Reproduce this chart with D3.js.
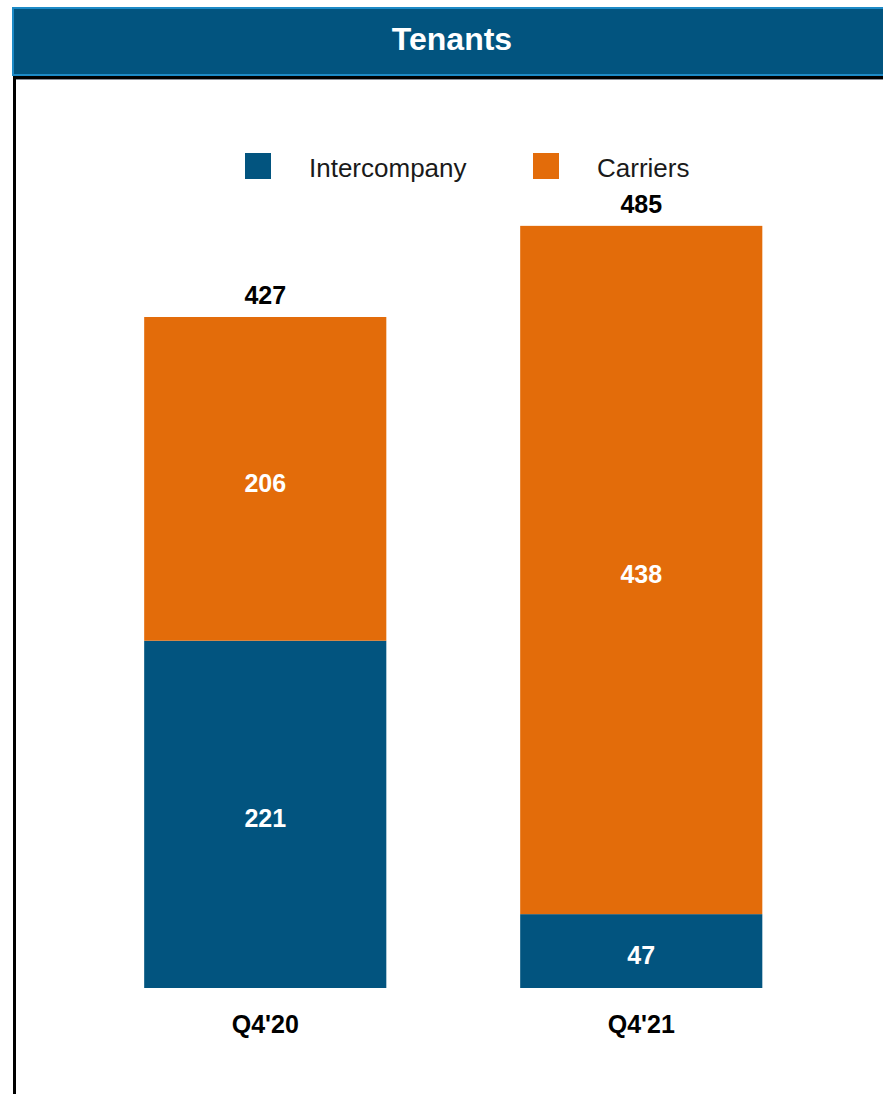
<!DOCTYPE html>
<html>
<head>
<meta charset="utf-8">
<script src="https://cdn.jsdelivr.net/npm/d3@7"></script>
<style>
  html, body { margin: 0; padding: 0; background: #ffffff; }
  svg { display: block; font-family: "Liberation Sans", Arial, sans-serif; }
</style>
</head>
<body>
<svg id="chart" width="883" height="1094"></svg>
<script>
// Tenant counts by quarter, split into intercompany and carrier tenants
const categories = ["Q4'20", "Q4'21"];
const seriesNames = ["Intercompany", "Carriers"];
const intercompany = [221, 47];
const carriers = [206, 438];
const totals = [427, 485];
const title = "Tenants";

const colors = { Intercompany: "#02547f", Carriers: "#e36c0a" };

const svg = d3.select("#chart");
const W = 883, H = 1094;

// Header banner
svg.append("rect")
  .attr("x", 13).attr("y", 8)
  .attr("width", W).attr("height", 67)
  .attr("fill", "#02547f")
  .attr("stroke", "#1d8ac6").attr("stroke-width", 2);

svg.append("text")
  .attr("x", 452).attr("y", 39)
  .attr("text-anchor", "middle").attr("dominant-baseline", "central")
  .attr("fill", "#ffffff").attr("font-weight", "bold").attr("font-size", 32)
  .text(title);

// Panel frame: top and left rules
svg.append("rect").attr("x", 13).attr("y", 76).attr("width", W).attr("height", 3).attr("fill", "#000");
svg.append("rect").attr("x", 13).attr("y", 79).attr("width", W).attr("height", 1).attr("fill", "#8a8f99");
svg.append("rect").attr("x", 13).attr("y", 76).attr("width", 3).attr("height", H).attr("fill", "#000");

// Stack the series
const rows = categories.map((c, i) => ({
  category: c,
  Intercompany: intercompany[i],
  Carriers: carriers[i],
  total: totals[i]
}));
const stacked = d3.stack().keys(seriesNames)(rows);

const x = d3.scaleBand()
  .domain(categories)
  .range([77.25, 829.25])
  .paddingInner(0.356)
  .paddingOuter(0.178);

const y = d3.scaleLinear()
  .domain([0, 427])
  .range([988, 317]);

const layers = svg.append("g").selectAll("g")
  .data(stacked)
  .join("g")
  .attr("fill", d => colors[d.key]);

layers.selectAll("rect")
  .data(d => d)
  .join("rect")
  .attr("x", d => x(d.data.category))
  .attr("y", d => y(d[1]))
  .attr("width", x.bandwidth())
  .attr("height", d => y(d[0]) - y(d[1]));

// Segment values
layers.selectAll("text")
  .data(d => d.map(s => ({ s, key: d.key })))
  .join("text")
  .attr("x", d => x(d.s.data.category) + x.bandwidth() / 2)
  .attr("y", d => (y(d.s[0]) + y(d.s[1])) / 2 + 4)
  .attr("text-anchor", "middle").attr("dominant-baseline", "central")
  .attr("fill", "#ffffff").attr("font-weight", "bold").attr("font-size", 25)
  .text(d => d.s.data[d.key]);

// Totals above each stack
svg.append("g").selectAll("text")
  .data(rows)
  .join("text")
  .attr("x", d => x(d.category) + x.bandwidth() / 2)
  .attr("y", d => y(d.total) - 22)
  .attr("text-anchor", "middle").attr("dominant-baseline", "central")
  .attr("fill", "#000").attr("font-weight", "bold").attr("font-size", 25)
  .text(d => d.total);

// Category axis labels
const xAxis = svg.append("g")
  .attr("transform", `translate(0, ${y(0)})`)
  .call(d3.axisBottom(x).tickSize(0).tickPadding(27));
xAxis.select(".domain").remove();
xAxis.selectAll("text")
  .attr("font-family", "Liberation Sans, Arial, sans-serif")
  .attr("font-weight", "bold").attr("font-size", 25).attr("fill", "#000");

// Legend
const legendItems = [
  { name: "Intercompany", sx: 245, tx: 309 },
  { name: "Carriers", sx: 533, tx: 597 }
];
const legend = svg.append("g").selectAll("g").data(legendItems).join("g");
legend.append("rect")
  .attr("x", d => d.sx).attr("y", 153)
  .attr("width", 26).attr("height", 26)
  .attr("fill", d => colors[d.name]);
legend.append("text")
  .attr("x", d => d.tx).attr("y", 168)
  .attr("dominant-baseline", "central")
  .attr("font-size", 26).attr("fill", "#1a1a1a")
  .text(d => d.name);
</script>
</body>
</html>
